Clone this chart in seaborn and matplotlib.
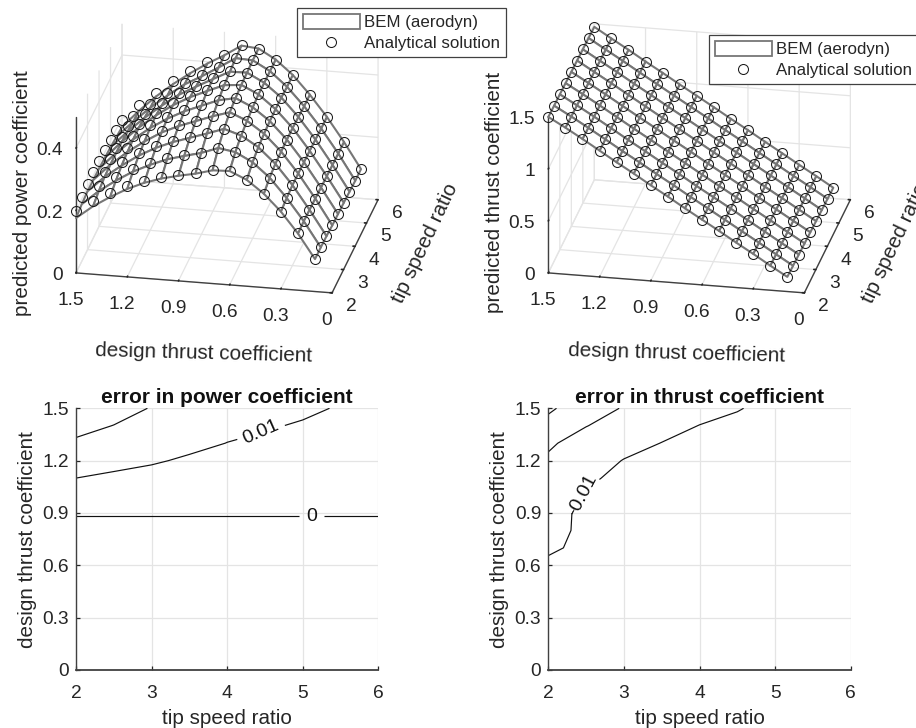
import numpy as np
import matplotlib
matplotlib.use("Agg")
import matplotlib.pyplot as plt
from matplotlib.lines import Line2D
from matplotlib.patches import Patch
import seaborn as sns

# ---- data ----
design_ct = [1.5, 1.4, 1.3, 1.2, 1.1, 1.0, 0.9, 0.8, 0.7, 0.6, 0.5, 0.4, 0.3, 0.2, 0.1]
tip_speed = [2, 2.5, 3, 3.5, 4, 4.5, 5, 5.5, 6]

cp_analytical = [
    [.200, .235, .264, .291, .312, .328, .339, .349, .363, .365, .341, .301, .248, .182, .104],
    [.207, .246, .279, .309, .332, .352, .365, .378, .397, .388, .360, .315, .254, .184, .104],
    [.211, .254, .290, .323, .349, .370, .386, .403, .421, .404, .371, .322, .258, .183, .103],
    [.210, .256, .296, .331, .361, .384, .402, .421, .437, .414, .377, .324, .258, .182, .100],
    [.209, .256, .299, .337, .368, .394, .414, .435, .445, .420, .380, .325, .257, .180, .099],
    [.206, .255, .300, .340, .374, .402, .424, .446, .450, .424, .381, .325, .256, .179, .098],
    [.203, .250, .294, .334, .370, .398, .425, .452, .452, .424, .381, .323, .255, .178, .096],
    [.198, .245, .289, .329, .366, .394, .425, .458, .454, .424, .378, .320, .253, .177, .094],
    [.193, .243, .288, .329, .365, .398, .427, .461, .455, .424, .379, .320, .253, .177, .094],
]
cp_bem_offset = [-.024, -.017, -.012, -.009, -.006, -.004, -.002, -.001, 0, 0, 0, 0, 0, 0, 0]

ct_analytical = [
    [1.500, 1.410, 1.314, 1.215, 1.115, 1.020, .920, .824, .724, .628, .532, .433, .337, .237, .141],
    [1.496, 1.405, 1.309, 1.211, 1.111, 1.015, .916, .820, .720, .624, .527, .429, .332, .233, .136],
    [1.493, 1.400, 1.305, 1.206, 1.106, 1.010, .911, .815, .715, .619, .523, .424, .327, .228, .132],
    [1.489, 1.396, 1.300, 1.201, 1.102, 1.005, .907, .810, .711, .615, .518, .419, .322, .224, .127],
    [1.485, 1.391, 1.295, 1.196, 1.097, 1.000, .902, .806, .706, .610, .513, .415, .317, .219, .122],
    [1.482, 1.386, 1.290, 1.191, 1.093, .995, .898, .801, .702, .606, .508, .410, .313, .215, .117],
    [1.478, 1.381, 1.285, 1.186, 1.089, .990, .894, .797, .698, .602, .503, .406, .308, .211, .112],
    [1.475, 1.377, 1.281, 1.181, 1.084, .986, .889, .792, .693, .597, .499, .401, .303, .206, .108],
    [1.471, 1.372, 1.276, 1.176, 1.080, .981, .885, .788, .689, .593, .494, .397, .298, .202, .103],
]

err_ct_rows = [.5, .6, .7, .8, .9, 1.0, 1.1, 1.2, 1.3, 1.4, 1.5]
err_power = [
    [-.0060, -.0060, -.0060, -.0060, -.0060, -.0060, -.0060, -.0060, -.0060],
    [-.0055, -.0055, -.0055, -.0055, -.0055, -.0055, -.0055, -.0055, -.0055],
    [-.0050, -.0050, -.0050, -.0050, -.0050, -.0050, -.0050, -.0050, -.0050],
    [-.0040, -.0040, -.0040, -.0040, -.0040, -.0040, -.0040, -.0040, -.0040],
    [.0010, .0010, .0010, .0010, .0010, .0010, .0010, .0010, .0010],
    [.0055, .0045, .0040, .0035, .0030, .0025, .0020, .0018, .0015],
    [.0100, .0085, .0075, .0065, .0055, .0048, .0040, .0035, .0030],
    [.0143, .0125, .0108, .0090, .0078, .0068, .0058, .0050, .0045],
    [.0185, .0165, .0138, .0118, .0099, .0088, .0076, .0066, .0060],
    [.0231, .0198, .0165, .0142, .0118, .0106, .0094, .0080, .0072],
    [.0280, .0240, .0195, .0170, .0140, .0125, .0112, .0095, .0085],
]
err_thrust = [
    [-.0080, -.0065, -.0050, -.0040, -.0032, -.0026, -.0020, -.0016, -.0012],
    [-.0090, -.0075, -.0058, -.0046, -.0038, -.0030, -.0024, -.0020, -.0016],
    [-.0108, -.0088, -.0065, -.0050, -.0042, -.0034, -.0028, -.0023, -.0019],
    [-.0115, -.0090, -.0068, -.0054, -.0046, -.0038, -.0032, -.0027, -.0022],
    [-.0125, -.0085, -.0060, -.0052, -.0048, -.0040, -.0034, -.0029, -.0024],
    [-.0135, -.0096, -.0072, -.0058, -.0052, -.0044, -.0038, -.0032, -.0027],
    [-.0158, -.0108, -.0088, -.0072, -.0060, -.0052, -.0044, -.0037, -.0031],
    [-.0185, -.0125, -.0098, -.0085, -.0072, -.0062, -.0052, -.0044, -.0038],
    [-.0215, -.0155, -.0118, -.0099, -.0088, -.0075, -.0063, -.0054, -.0046],
    [-.0265, -.0203, -.0155, -.0118, -.0099, -.0088, -.0075, -.0065, -.0055],
    [-.0318, -.0235, -.0195, -.0140, -.0118, -.0103, -.0085, -.0072, -.0062],
]

ct_ticks = [1.5, 1.2, .9, .6, .3, 0]
ct_tick_labels = ["1.5", "1.2", "0.9", "0.6", "0.3", "0"]
tsr_ticks = [2, 3, 4, 5, 6]

# ---- style ----
TXT = "#262626"
GRID = "#e4e4e4"
MESH = "#767676"
FS_LABEL = 14.9
FS_TICK = 13.8
sns.set_theme(style="whitegrid", rc={
    "grid.color": GRID, "grid.linewidth": 0.9, "axes.edgecolor": "#404040",
    "text.color": TXT, "axes.labelcolor": TXT, "xtick.color": TXT, "ytick.color": TXT,
    "font.size": FS_TICK, "axes.labelsize": FS_LABEL, "xtick.labelsize": FS_TICK, "ytick.labelsize": FS_TICK,
})
plt.rcParams["font.family"] = ["Liberation Sans", "DejaVu Sans"]

W, H = 916, 728
fig = plt.figure(figsize=(W / 100, H / 100), dpi=100, facecolor="white")


def axes_px(x0, y_bottom_img, w, h):
    return [x0 / W, (H - y_bottom_img) / H, w / W, h / H]


def nudge(text, dx, dy):
    """Keep a 3D axis text dx, dy pixels away from where mplot3d puts it."""
    unit = 0.185 / 381.0  # projected view width over axes width in pixels
    place = text.set_position
    text.set_position = lambda xy: place((xy[0] + dx * unit, xy[1] + dy * unit))


def surface_panel(x0, table, offset, zlim, zticks, zticklabels, zlabel, ylab_dx):
    ax = fig.add_axes(axes_px(x0, 354, 381, 381), projection="3d", computed_zorder=False)
    ax.patch.set_alpha(0)
    ax.set_proj_type("ortho")
    ax.view_init(elev=23.4, azim=-78.9)
    ax.set_box_aspect((261, 239, 170), zoom=1)
    X, Y = np.meshgrid(design_ct, tip_speed)
    Z = np.asarray(table)
    ax.plot_surface(X, Y, Z + np.asarray(offset), rstride=1, cstride=1, color="white",
                    edgecolor=MESH, linewidth=1.5, shade=False, antialiased=True, zorder=2)
    ax.plot(X.ravel(), Y.ravel(), Z.ravel(), ls="none", marker="o", ms=7.2, mfc="none",
            mec="#1a1a1a", mew=0.75, zorder=3)
    ax.set_xlim(1.5, 0)
    ax.set_ylim(2, 6)
    ax.set_zlim(*zlim)
    ax.set_xticks(ct_ticks, ct_tick_labels)
    ax.set_yticks(tsr_ticks, [str(t) for t in tsr_ticks])
    ax.set_zticks(zticks, zticklabels)
    for a in (ax.xaxis, ax.yaxis, ax.zaxis):
        a.pane.set_facecolor("white")
        a.pane.set_edgecolor("none")
        a.line.set_color("#404040")
        a.line.set_linewidth(1.0)
        a._axinfo["tick"]["inward_factor"] = 0.0
        a._axinfo["tick"]["outward_factor"] = 0.1
    ax.zaxis.set_ticks_position("lower")
    ax.zaxis.set_label_position("lower")
    ax.tick_params(axis="x", pad=6)
    ax.tick_params(axis="y", pad=2)
    ax.tick_params(axis="z", pad=6)
    ax.set_xlabel("design thrust coefficient", labelpad=20, rotation=-1.5)
    ax.xaxis.set_rotate_label(False)
    ax.set_ylabel("tip speed ratio", labelpad=14, rotation=64.7)
    ax.yaxis.set_rotate_label(False)
    ax.set_zlabel(zlabel, labelpad=14, rotation=90)
    ax.zaxis.set_rotate_label(False)
    nudge(ax.xaxis.label, 13, 1)
    nudge(ax.yaxis.label, ylab_dx, 46)
    nudge(ax.zaxis.label, 20, 20)
    for t in ax.xaxis.get_major_ticks():
        nudge(t.label1, -1, 5)
    for t in ax.yaxis.get_major_ticks():
        nudge(t.label1, 1, 7)
    for t in ax.zaxis.get_major_ticks():
        nudge(t.label1, 16, 13)
        t.label1.set_horizontalalignment("right")
    return ax


surface_panel(31.4, cp_analytical, cp_bem_offset, (0, .5), [0, .2, .4], ["0", "0.2", "0.4"],
              "predicted power coefficient", 7)
surface_panel(503.7, ct_analytical, np.zeros(15), (0, 1.5), [0, .5, 1, 1.5], ["0", "0.5", "1", "1.5"],
              "predicted thrust coefficient", 5)


def error_panel(x0, table, plain_levels, lab_levels, lab_pos, title):
    ax = fig.add_axes(axes_px(x0, 670, 302.4, 261.7))
    T, C = np.meshgrid(tip_speed, err_ct_rows)
    ax.contour(T, C, np.asarray(table), levels=plain_levels, colors="#111111", linewidths=0.85,
               linestyles="solid")
    cs = ax.contour(T, C, np.asarray(table), levels=lab_levels, colors="#111111", linewidths=0.85,
                    linestyles="solid")
    ax.clabel(cs, fmt="%g", manual=lab_pos, inline=True, inline_spacing=7, fontsize=14)
    ax.set_xlim(2, 6)
    ax.set_ylim(0, 1.5)
    ax.set_xticks(tsr_ticks)
    ax.set_yticks(ct_ticks[::-1], ct_tick_labels[::-1])
    ax.grid(True, color=GRID, linewidth=0.9)
    ax.tick_params(length=3, width=0.9, direction="in", left=True, bottom=True)
    ax.tick_params(axis="x", pad=11)
    ax.tick_params(axis="y", pad=5)
    sns.despine(ax=ax)
    ax.spines["left"].set_linewidth(1.0)
    ax.spines["bottom"].set_linewidth(1.3)
    ax.set_xlabel("tip speed ratio", labelpad=4.5)
    ax.set_ylabel("design thrust coefficient", labelpad=4)
    ax.set_title(title, fontweight="bold", fontsize=15, pad=4, color="#111111")
    return ax


error_panel(76, err_power, [.02], [0, .01], [(5.12, .88), (4.48, 1.34)], "error in power coefficient")
error_panel(548.3, err_thrust, [-.03, -.02], [-.01], [(2.47, 1.0)], "error in thrust coefficient")

handles = [Patch(facecolor="white", edgecolor=MESH, linewidth=1.3),
           Line2D([], [], ls="none", marker="o", ms=7.2, mfc="none", mec="#1a1a1a", mew=0.75)]
labels = ["BEM (aerodyn)", "Analytical solution"]
for left, top in ((297, 8), (709, 35)):
    leg = fig.legend(handles, labels, loc="upper left", bbox_to_anchor=(left / W, 1 - top / H),
                     fontsize=12.2, frameon=True, fancybox=False, framealpha=1, edgecolor="#404040",
                     facecolor="white", borderaxespad=0, borderpad=0.35, handlelength=3.35, handleheight=0.95,
                     handletextpad=0.25, labelspacing=0.3)
    leg.get_frame().set_linewidth(0.9)

fig.savefig("out.png", dpi=100)
